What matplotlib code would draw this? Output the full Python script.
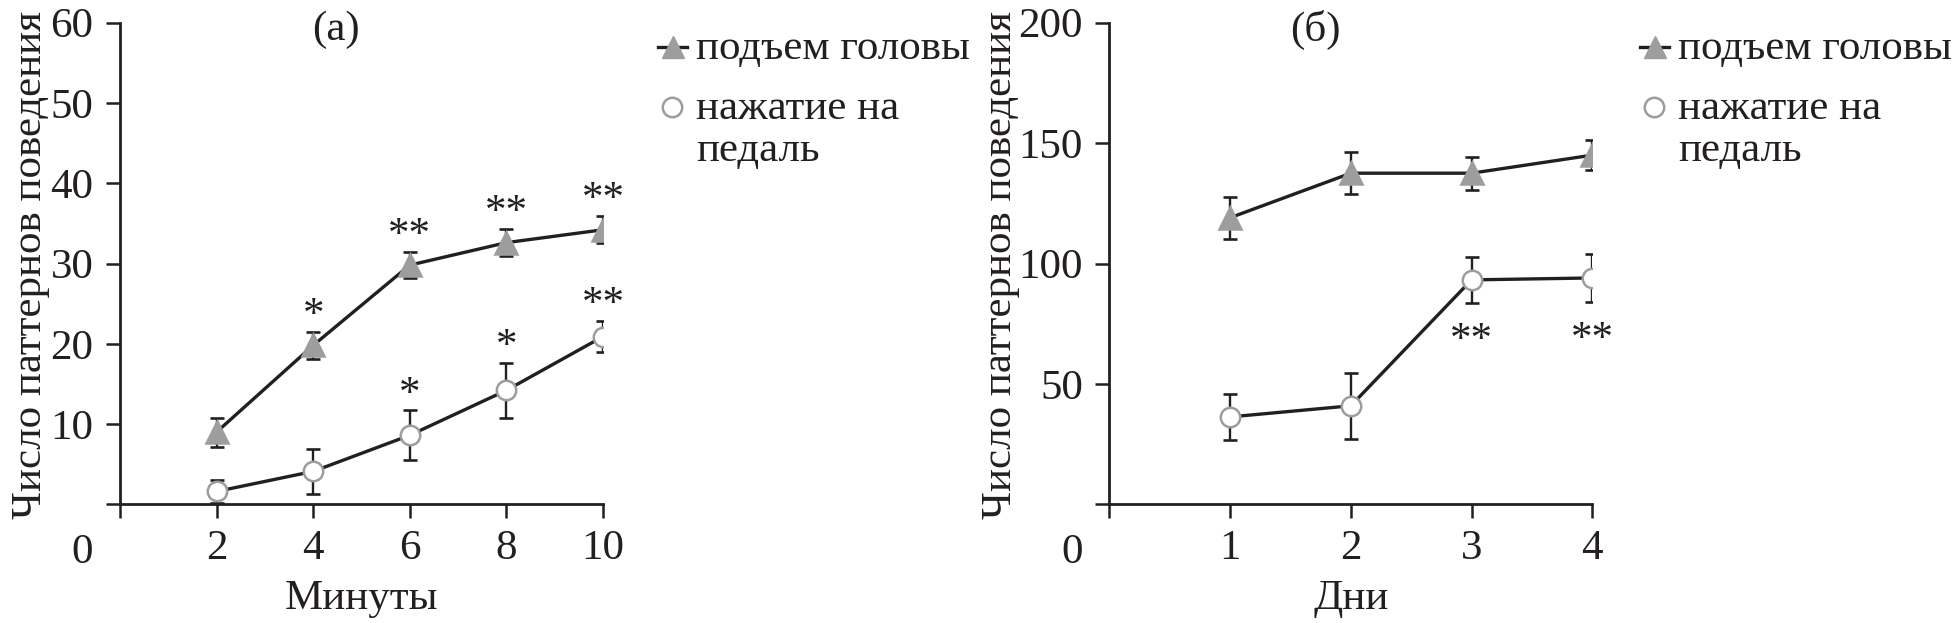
import matplotlib
matplotlib.use("Agg")
import matplotlib.pyplot as plt
from matplotlib.lines import Line2D

plt.rcParams['font.family'] = ['Liberation Serif', 'DejaVu Serif']

# ---------------- data ----------------
# panel (a): minutes
minutes = [2, 4, 6, 8, 10]
head_a = [9.0, 19.8, 29.8, 32.6, 34.2]
head_a_err = [1.8, 1.7, 1.6, 1.7, 1.7]
pedal_a = [1.6, 4.1, 8.6, 14.2, 20.9]
pedal_a_err = [1.4, 2.8, 3.1, 3.4, 1.9]
stars_head_a = ['', '*', '**', '**', '**']
stars_pedal_a = ['', '', '*', '*', '**']

# panel (б): days
days = [1, 2, 3, 4]
head_b = [119.0, 137.5, 137.5, 145.0]
head_b_err = [8.8, 8.7, 6.8, 6.2]
pedal_b = [36.3, 40.9, 93.2, 94.0]
pedal_b_err = [9.4, 13.6, 9.6, 10.0]
stars_pedal_b = ['', '', '**', '**']

label_head = 'подъем головы'
label_pedal = ['нажатие на', 'педаль']
ylabel = 'Число паттернов поведения'

FS = 31
INK = '#231f20'
GRAY = '#9d9d9d'
W, H = 1954, 623

fig = plt.figure(figsize=(W / 100, H / 100), dpi=100)


def px(x, y):
    return x / W, 1 - y / H


def setup(ax, xmax, xticks, ymax, yticks, xlabel, title, title_x, ylab_x):
    ax.set_xlim(0, xmax)
    ax.set_ylim(0, ymax)
    ax.spines['top'].set_visible(False)
    ax.spines['right'].set_visible(False)
    for s in ('left', 'bottom'):
        ax.spines[s].set_linewidth(2.0)
        ax.spines[s].set_color(INK)
    ax.set_xticks([0] + list(xticks))
    ax.set_xticklabels([''] + [str(v) for v in xticks])
    ax.set_yticks([0] + list(yticks))
    ax.set_yticklabels([''] + [str(v) for v in yticks])
    ax.tick_params(axis='both', direction='out', length=10, width=1.8,
                   color=INK, labelsize=FS, labelcolor=INK)
    ax.tick_params(axis='x', pad=8)
    ax.tick_params(axis='y', pad=9)
    ax.set_xlabel(xlabel, fontsize=FS, color=INK)
    ax.xaxis.set_label_coords(0.5, -0.157)
    ax.set_ylabel(ylabel, fontsize=FS, color=INK)
    ax.yaxis.set_label_coords(ylab_x, 0.497)
    ax.annotate('0', xy=(0, 0), xycoords='data', xytext=(-27, -35),
                textcoords='offset points', ha='center', va='center',
                fontsize=FS, color=INK)
    ax.text(title_x, 0.985, title, transform=ax.transAxes, ha='center',
            va='center', fontsize=FS, color=INK)


def series(ax, x, y, e, marker, ms, mfc, mec):
    ax.errorbar(x, y, yerr=e, fmt='none', ecolor=INK, elinewidth=1.7,
                capsize=5, capthick=1.9, zorder=2)
    ax.plot(x, y, color=INK, lw=2.4, zorder=3)
    ax.plot(x, y, linestyle='none', marker=marker, ms=ms, mfc=mfc, mec=mec,
            mew=1.8, zorder=4)


def stars(ax, x, y, e, labels, dy, above=True):
    for xi, yi, ei, s in zip(x, y, e, labels):
        if s:
            yy = yi + ei + dy if above else yi - ei - dy
            ax.text(xi, yy, s, ha='center', va='center', fontsize=FS,
                    color=INK)


def legend(x0, y_first, y_second, baselines):
    lx0, ly = px(x0 - 15, y_first)
    lx1, _ = px(x0 + 14, y_first)
    fig.add_artist(Line2D([lx0, lx1], [ly, ly], color=INK, lw=2.4,
                          transform=fig.transFigure))
    mx, my = px(x0, y_first)
    fig.add_artist(Line2D([mx], [my], marker='^', ms=16, mfc=GRAY, mec=GRAY,
                          linestyle='none', transform=fig.transFigure))
    mx2, my2 = px(x0 - 1, y_second)
    fig.add_artist(Line2D([mx2], [my2], marker='o', ms=14, mfc='white',
                          mec=GRAY, mew=1.8, linestyle='none',
                          transform=fig.transFigure))
    lines = [label_head] + label_pedal
    for txt, b in zip(lines, baselines):
        tx, ty = px(x0 + 23, b)
        fig.text(tx, ty, txt, ha='left', va='baseline', fontsize=FS,
                 color=INK)


# ---------------- panel (a) ----------------
ax1 = fig.add_axes([120 / W, 1 - 504.3 / H, 483 / W, 481.6 / H])
setup(ax1, 10, [2, 4, 6, 8, 10], 60, [10, 20, 30, 40, 50, 60], 'Минуты',
      '(a)', 0.448, -0.145)
series(ax1, minutes, head_a, head_a_err, '^', 16, GRAY, GRAY)
series(ax1, minutes, pedal_a, pedal_a_err, 'o', 14, 'white', GRAY)
stars(ax1, minutes, head_a, head_a_err, stars_head_a, 2.0)
stars(ax1, minutes, pedal_a, pedal_a_err, stars_pedal_a, 2.0)

# ---------------- panel (б) ----------------
ax2 = fig.add_axes([1109.3 / W, 1 - 504.3 / H, 483 / W, 481.6 / H])
setup(ax2, 4, [1, 2, 3, 4], 200, [50, 100, 150, 200], 'Дни',
      '(б)', 0.426, -0.184)
series(ax2, days, head_b, head_b_err, '^', 16, GRAY, GRAY)
series(ax2, days, pedal_b, pedal_b_err, 'o', 14, 'white', GRAY)
stars(ax2, days, pedal_b, pedal_b_err, stars_pedal_b, 15.5, above=False)

legend(673, 47, 107, [59, 119, 161])
legend(1655, 47, 107, [59, 119, 161])

fig.savefig('out.png', dpi=100, facecolor='white')
